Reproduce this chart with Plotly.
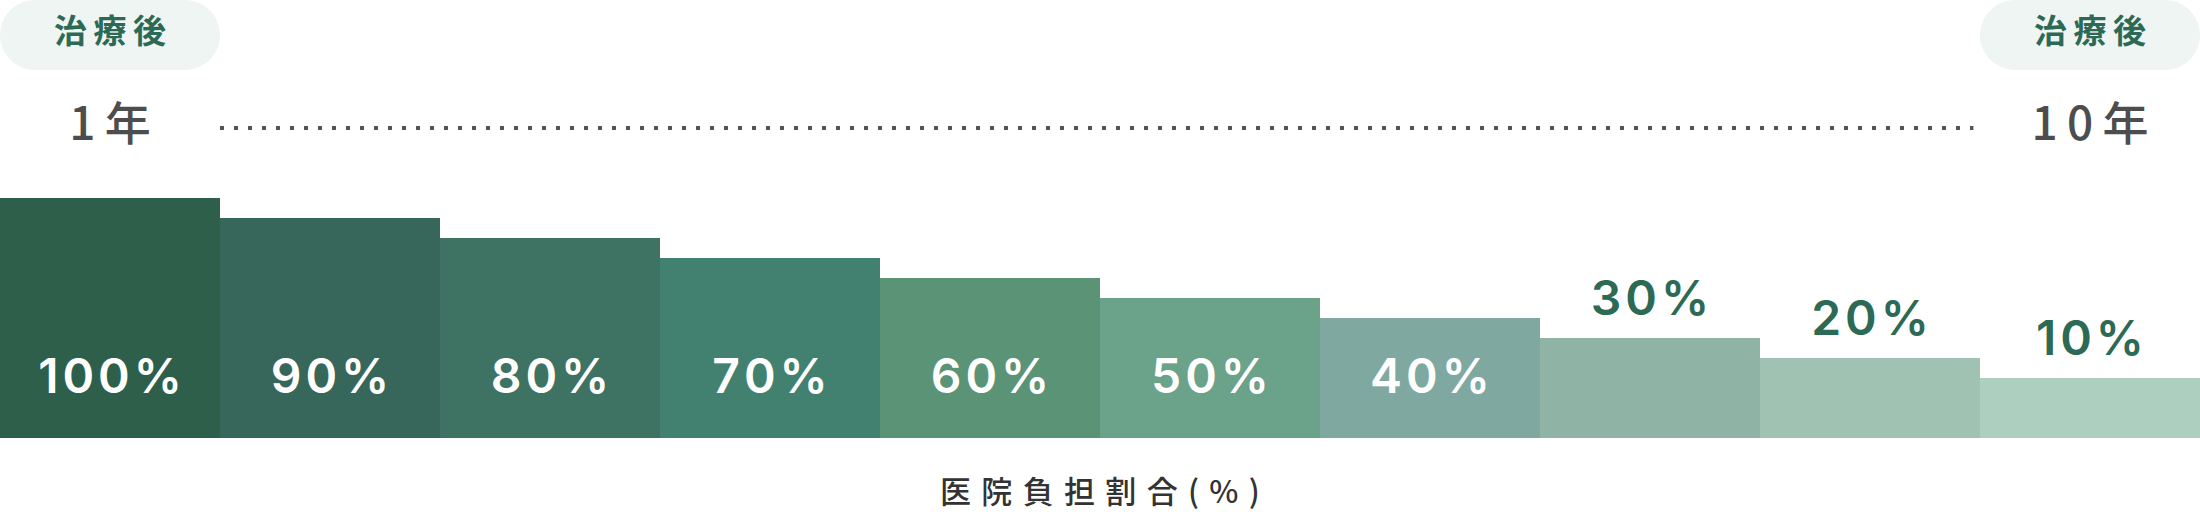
import plotly.graph_objects as go

# data
shares = [100, 90, 80, 70, 60, 50, 40, 30, 20, 10]
labels = ["\u200a".join(f"{v}%") for v in shares]
bar_colors = ["#2e5f4a", "#37665a", "#3e7262", "#42806f", "#5a9376",
              "#6aa28a", "#7fa9a0", "#8fb4a5", "#a0c2b2", "#adcfbf"]
start_label = "1\u2009年"
end_label = "1\u20090\u2009年"
badge_text = "治\u2009療\u2009後"
axis_title = "\u2004".join("医院負担割合(%)")

FONT = "Inter, 'Noto Sans CJK JP', sans-serif"
CJK = "'Noto Sans CJK JP Medium', 'Noto Sans CJK JP', sans-serif"
GREEN = "#2d6a55"
BASE = -20  # bars start below zero so the smallest one still has some height

x = list(range(len(shares)))

fig = go.Figure()
fig.add_trace(go.Bar(
    x=x, y=[v - BASE for v in shares], base=BASE, width=1,
    marker=dict(color=bar_colors, line=dict(width=0)),
    hoverinfo="skip",
))

# labels: white inside the tall bars, green above the short ones
inside = [v >= 40 for v in shares]
fig.add_trace(go.Scatter(
    x=x, y=[8.5 if i else v + 17.5 for v, i in zip(shares, inside)],
    mode="text", text=labels, textposition="middle center",
    textfont=dict(family=FONT, size=48, weight=600,
                  color=["white" if i else GREEN for i in inside]),
    hoverinfo="skip",
))

fig.add_trace(go.Scatter(
    x=[x[0], x[-1]], y=[135, 135], mode="text",
    text=[start_label, end_label], textposition="middle center",
    textfont=dict(family=CJK, size=46, weight=500, color="#4d4d4d"),
    hoverinfo="skip",
))


def pill(cx, y0, y1, rx_px=35):
    # rounded badge in data coords (220 px per x unit)
    r = rx_px / 220
    x0, x1 = cx - 0.5, cx + 0.5
    ym = (y0 + y1) / 2
    k = 0.55
    return (f"M {x0 + r},{y0} L {x1 - r},{y0} "
            f"C {x1 - r + k * r},{y0} {x1},{ym - k * (ym - y0)} {x1},{ym} "
            f"C {x1},{ym + k * (y1 - ym)} {x1 - r + k * r},{y1} {x1 - r},{y1} "
            f"L {x0 + r},{y1} "
            f"C {x0 + r - k * r},{y1} {x0},{ym + k * (y1 - ym)} {x0},{ym} "
            f"C {x0},{ym - k * (ym - y0)} {x0 + r - k * r},{y0} {x0 + r},{y0} Z")


shapes = []
for cx in (x[0], x[-1]):
    shapes.append(dict(type="path", path=pill(cx, 164, 199), xref="x", yref="y",
                       fillcolor="#eff5f2", line=dict(width=0), layer="below"))
shapes.append(dict(type="line", xref="x", yref="y", x0=0.5, x1=8.47, y0=135, y1=135,
                   line=dict(color="#555555", width=4, dash="4px,10px")))

fig.add_trace(go.Scatter(
    x=[x[0], x[-1]], y=[181.5, 181.5], mode="text",
    text=[badge_text, badge_text], textposition="middle center",
    textfont=dict(family="'Noto Sans CJK JP', sans-serif", size=33, weight=700, color=GREEN),
    hoverinfo="skip",
))

fig.update_layout(
    width=2200, height=512,
    margin=dict(l=0, r=0, t=0, b=74),
    paper_bgcolor="white", plot_bgcolor="white",
    showlegend=False, bargap=0,
    shapes=shapes,
    xaxis=dict(range=[-0.5, 9.5], visible=False, fixedrange=True),
    yaxis=dict(range=[BASE, 199], visible=False, fixedrange=True),
    annotations=[dict(
        text=axis_title, x=0.5, y=-52 / 438, xref="paper", yref="paper",
        showarrow=False, xanchor="center", yanchor="middle",
        font=dict(family=CJK, size=31, weight=500, color="#333333"),
    )],
)

fig.write_html("out.html", config={"displayModeBar": False},
               post_script="document.body.style.margin='0';document.body.style.overflow='hidden';")
